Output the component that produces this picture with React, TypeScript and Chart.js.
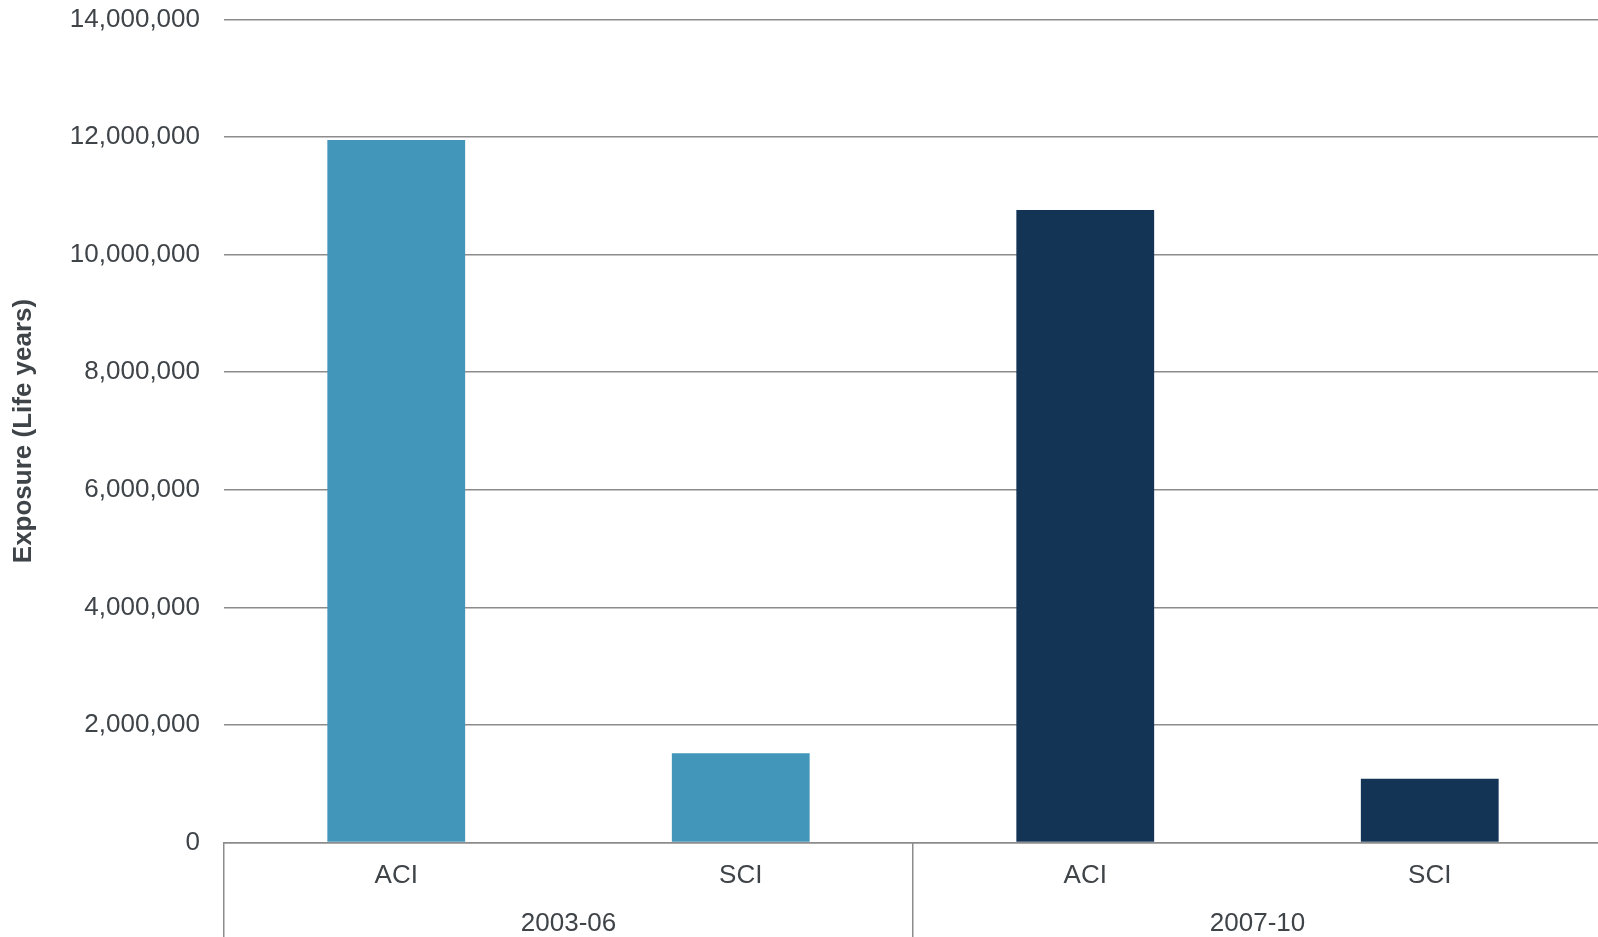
import React, { useEffect, useRef } from "react";
import { Chart, registerables } from "chart.js";

Chart.register(...registerables);

const categories = ["ACI", "SCI", "ACI", "SCI"];
const groups = ["2003-06", "2007-10"];
const exposure = [11950000, 1520000, 10760000, 1085000];
const barColors = ["#4196B9", "#4196B9", "#143456", "#143456"];
const yTitle = "Exposure (Life years)";

const FONT = "'Liberation Sans', Arial, Helvetica, sans-serif";
const TEXT = "#3f4449";
const GRID = "#8c8c8c";

export default function App() {
  const ref = useRef<HTMLCanvasElement | null>(null);

  useEffect(() => {
    if (!ref.current) return;
    const chart = new Chart(ref.current, {
      type: "bar",
      data: {
        labels: categories,
        datasets: [
          {
            data: exposure,
            xAxisID: "x",
            yAxisID: "y",
            backgroundColor: barColors,
            borderWidth: 0,
            barPercentage: 0.8,
            categoryPercentage: 0.5,
          },
        ],
      },
      options: {
        responsive: false,
        animation: false,
        layout: { padding: { top: 19.5, right: 0, bottom: 0, left: 0 } },
        plugins: { legend: { display: false }, tooltip: { enabled: false } },
        scales: {
          y: {
            min: 0,
            max: 14000000,
            border: { display: false },
            grid: {
              color: GRID,
              lineWidth: 1.5,
              drawTicks: true,
              tickLength: 24,
              tickColor: "rgba(0,0,0,0)",
            },
            ticks: {
              stepSize: 2000000,
              padding: 0,
              color: TEXT,
              font: { family: FONT, size: 26 },
              callback: (v: any) => Number(v).toLocaleString("en-US"),
            },
            title: {
              display: true,
              text: yTitle,
              color: TEXT,
              font: { family: FONT, size: 26, weight: "bold" },
              padding: { top: 8, bottom: 4 },
            },
            afterFit: (s: any) => {
              s.width = 224;
            },
          },
          xDiv: {
            type: "category",
            position: "bottom",
            weight: 0,
            labels: groups,
            offset: true,
            border: { display: false },
            grid: {
              offset: true,
              drawOnChartArea: false,
              drawTicks: true,
              tickLength: 100,
              lineWidth: 1.5,
              color: GRID,
            },
            ticks: { display: false },
            afterFit: (s: any) => {
              s.height = 0;
            },
          },
          x: {
            weight: 1,
            offset: true,
            border: { display: true, color: GRID, width: 1.5 },
            grid: { display: false, drawOnChartArea: false, drawTicks: false },
            ticks: {
              padding: 18,
              color: TEXT,
              font: { family: FONT, size: 26 },
            },
            afterFit: (s: any) => {
              s.height = 49;
            },
          },
          x2: {
            type: "category",
            position: "bottom",
            weight: 2,
            labels: groups,
            offset: true,
            border: { display: false },
            grid: { display: false, drawOnChartArea: false, drawTicks: false },
            ticks: {
              padding: 17,
              color: TEXT,
              font: { family: FONT, size: 26 },
            },
            afterFit: (s: any) => {
              s.height = 45.5;
            },
          },
        },
      },
    });
    return () => chart.destroy();
  }, []);

  return (
    <div
      style={{
        position: "absolute",
        left: 0,
        top: 0,
        width: 1598,
        height: 937,
        overflow: "hidden",
        background: "#fff",
      }}
    >
      <canvas ref={ref} width={1602} height={937} style={{ display: "block" }} />
    </div>
  );
}
